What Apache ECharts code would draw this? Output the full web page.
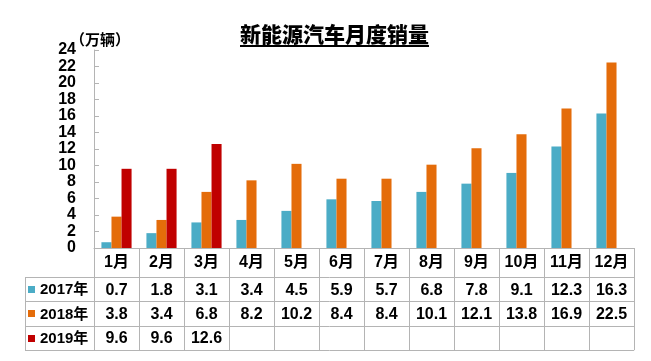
<!DOCTYPE html>
<html><head><meta charset="utf-8">
<script src="https://cdn.jsdelivr.net/npm/echarts@6/dist/echarts.min.js"></script>
<style>html,body{margin:0;padding:0;background:#fff}#c{width:651px;height:361px}</style>
</head><body><div id="c"></div>
<script>
const titleText = '新能源汽车月度销量';
const unitText = '（万辆）';
const months = ['1月','2月','3月','4月','5月','6月','7月','8月','9月','10月','11月','12月'];
const seriesNames = ['2017年','2018年','2019年'];
const s2017 = [0.7,1.8,3.1,3.4,4.5,5.9,5.7,6.8,7.8,9.1,12.3,16.3];
const s2018 = [3.8,3.4,6.8,8.2,10.2,8.4,8.4,10.1,12.1,13.8,16.9,22.5];
const s2019 = [9.6,9.6,12.6,null,null,null,null,null,null,null,null,null];
const yMin = 0, yMax = 24, yStep = 2;

const seriesData = [s2017, s2018, s2019];
const colors = ['#4BACC6','#E46C0A','#C00000'];
const numFont = 'Arial, "Liberation Sans", "Noto Sans CJK SC", sans-serif';
const titleFont = '"Noto Sans CJK SC", sans-serif';
const lineColor = '#b4b4b4';

const chart = echarts.init(document.getElementById('c'));
const option = {
  backgroundColor: '#fff',
  animation: false,
  title: {
    text: titleText, left: 235, top: 19,
    textStyle: {fontSize: 21, fontWeight: 900, color: '#000', fontFamily: titleFont}
  },
  grid: {left: 94, right: 17, top: 50, bottom: 113, containLabel: false},
  xAxis: {
    type: 'category', data: months,
    axisLine: {show: true, lineStyle: {color: lineColor, width: 1}},
    axisTick: {show: false},
    axisLabel: {interval: 0, margin: 7, fontSize: 16, fontWeight: 'bold', color: '#000', fontFamily: numFont}
  },
  yAxis: {
    type: 'value', min: yMin, max: yMax, interval: yStep,
    axisLine: {show: true, lineStyle: {color: lineColor}},
    axisTick: {show: true, inside: true, length: 5, lineStyle: {color: lineColor}},
    splitLine: {show: false},
    axisLabel: {margin: 18, fontSize: 16, fontWeight: 'bold', color: '#000', fontFamily: numFont}
  },
  series: seriesNames.map((n, k) => ({
    name: n, type: 'bar', data: seriesData[k],
    barCategoryGap: '33%', barGap: '0%',
    itemStyle: {color: colors[k]}
  }))
};
chart.setOption(option);

function r(v){ return Math.round(v) + 0.5; }
function buildTable(){
  const y0 = chart.convertToPixel({yAxisIndex: 0}, 0);
  const c0 = chart.convertToPixel({xAxisIndex: 0}, 0);
  const c1 = chart.convertToPixel({xAxisIndex: 0}, 1);
  const step = c1 - c0;
  const left = c0 - step / 2;
  const right = left + step * months.length;
  const headerH = 29, rowH = 24.4;
  const legendLeft = 25;
  const bottom = y0 + headerH + rowH * seriesNames.length;
  const els = [];
  const ls = {stroke: lineColor, lineWidth: 1};
  for (let k = 0; k <= seriesNames.length; k++) {
    const y = r(y0 + headerH + rowH * k);
    els.push({type: 'line', shape: {x1: legendLeft, y1: y, x2: right, y2: y}, style: ls, silent: true});
  }
  for (let i = 0; i <= months.length; i++) {
    const x = r(left + step * i);
    els.push({type: 'line', shape: {x1: x, y1: y0, x2: x, y2: bottom}, style: ls, silent: true});
  }
  els.push({type: 'line', shape: {x1: r(legendLeft), y1: r(y0 + headerH), x2: r(legendLeft), y2: bottom}, style: ls, silent: true});
  seriesNames.forEach((n, k) => {
    const ym = y0 + headerH + rowH * k + rowH / 2;
    els.push({type: 'rect', shape: {x: 28, y: Math.round(ym - 3.5), width: 7, height: 7}, style: {fill: colors[k]}, silent: true});
    els.push({type: 'text', style: {text: n, x: 40, y: ym + 1, font: 'bold 15px ' + numFont, fill: '#000', textAlign: 'left', textVerticalAlign: 'middle'}, silent: true});
    seriesData[k].forEach((v, i) => {
      if (v === null || v === undefined) return;
      const cx = chart.convertToPixel({xAxisIndex: 0}, i);
      els.push({type: 'text', style: {text: v.toFixed(1), x: cx, y: ym + 1, font: 'bold 16px ' + numFont, fill: '#000', textAlign: 'center', textVerticalAlign: 'middle'}, silent: true});
    });
  });
  els.push({type: 'text', style: {text: unitText, x: 70, y: 39, font: 'bold 15px ' + titleFont, fill: '#000', textAlign: 'left', textVerticalAlign: 'middle'}, silent: true});
  const cv = document.createElement('canvas').getContext('2d');
  cv.font = '900 21px ' + titleFont;
  const tw = cv.measureText(titleText).width;
  els.push({type: 'line', shape: {x1: 240, y1: 46, x2: 240 + tw, y2: 46}, style: {stroke: '#000', lineWidth: 2}, silent: true});
  chart.setOption({graphic: {elements: els}});
}
buildTable();
</script>
</body></html>
